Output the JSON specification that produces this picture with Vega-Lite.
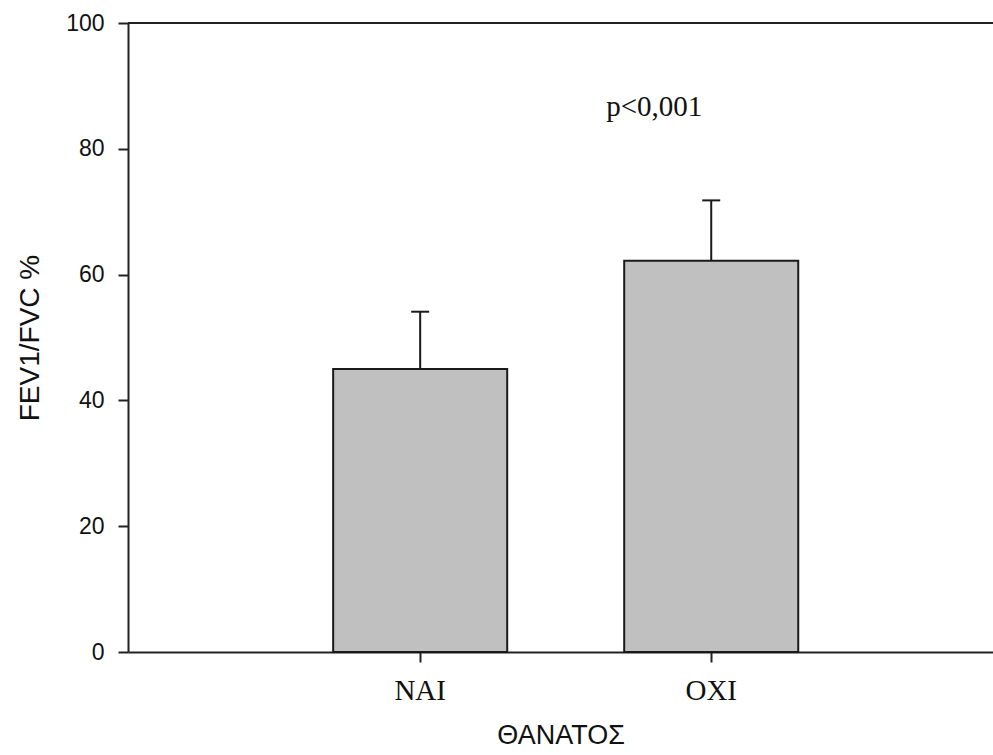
{
  "$schema": "https://vega.github.io/schema/vega-lite/v6.json",
  "width": 865,
  "height": 629,
  "autosize": {"type": "none"},
  "padding": {"left": 128, "top": 23, "right": 0, "bottom": 103},
  "background": "white",
  "config": {"view": {"stroke": null}},
  "data": {"values": [
    {"group": "NAI", "mean": 45.0, "upper": 54.1},
    {"group": "OXI", "mean": 62.2, "upper": 71.8}
  ]},
  "layer": [
    {
      "mark": {"type": "bar", "fill": "#c0c0c0", "stroke": "#1a1a1a", "strokeWidth": 2},
      "encoding": {
        "x": {
          "field": "group", "type": "nominal", "sort": ["NAI", "OXI"],
          "scale": {"paddingInner": 0.402, "paddingOuter": 0.687, "align": 0.513},
          "axis": {
            "title": "ΘΑΝΑΤΟΣ", "labelAngle": 0,
            "labelFont": "Liberation Serif", "labelFontSize": 29, "labelColor": "#111",
            "labelPadding": 14, "tickSize": 10, "tickColor": "#222", "tickWidth": 2,
            "domainColor": "#222", "domainWidth": 2,
            "titleFont": "Liberation Sans", "titleFontSize": 27, "titleFontWeight": "normal",
            "titleColor": "#111", "titlePadding": 17
          }
        },
        "y": {
          "field": "mean", "type": "quantitative",
          "scale": {"domain": [0, 100]},
          "axis": {
            "title": "FEV1/FVC %", "values": [0, 20, 40, 60, 80, 100], "grid": false,
            "labelFont": "Liberation Sans", "labelFontSize": 23, "labelColor": "#111",
            "labelPadding": 14, "tickSize": 10, "tickColor": "#222", "tickWidth": 2,
            "domainColor": "#222", "domainWidth": 2,
            "titleFont": "Liberation Sans", "titleFontSize": 28, "titleFontWeight": "normal",
            "titleColor": "#111", "titlePadding": 21
          }
        }
      }
    },
    {
      "mark": {"type": "rule", "stroke": "#1a1a1a", "strokeWidth": 2},
      "encoding": {
        "x": {"field": "group", "type": "nominal", "sort": ["NAI", "OXI"]},
        "y": {"field": "mean", "type": "quantitative", "title": "FEV1/FVC %"},
        "y2": {"field": "upper"}
      }
    },
    {
      "mark": {"type": "tick", "orient": "horizontal", "size": 18, "thickness": 2, "color": "#1a1a1a", "opacity": 1},
      "encoding": {
        "x": {"field": "group", "type": "nominal", "sort": ["NAI", "OXI"]},
        "y": {"field": "upper", "type": "quantitative", "title": "FEV1/FVC %"}
      }
    },
    {
      "mark": {"type": "rule", "stroke": "#222", "strokeWidth": 2},
      "encoding": {"y": {"datum": 100, "type": "quantitative"}}
    },
    {
      "data": {"values": [{"group": "OXI", "pos": 85.2, "label": "p<0,001"}]},
      "mark": {"type": "text", "font": "Liberation Serif", "fontSize": 29, "dx": -57, "baseline": "alphabetic", "align": "center", "color": "#111"},
      "encoding": {
        "x": {"field": "group", "type": "nominal", "sort": ["NAI", "OXI"]},
        "y": {"field": "pos", "type": "quantitative", "title": "FEV1/FVC %"},
        "text": {"field": "label"}
      }
    }
  ]
}
